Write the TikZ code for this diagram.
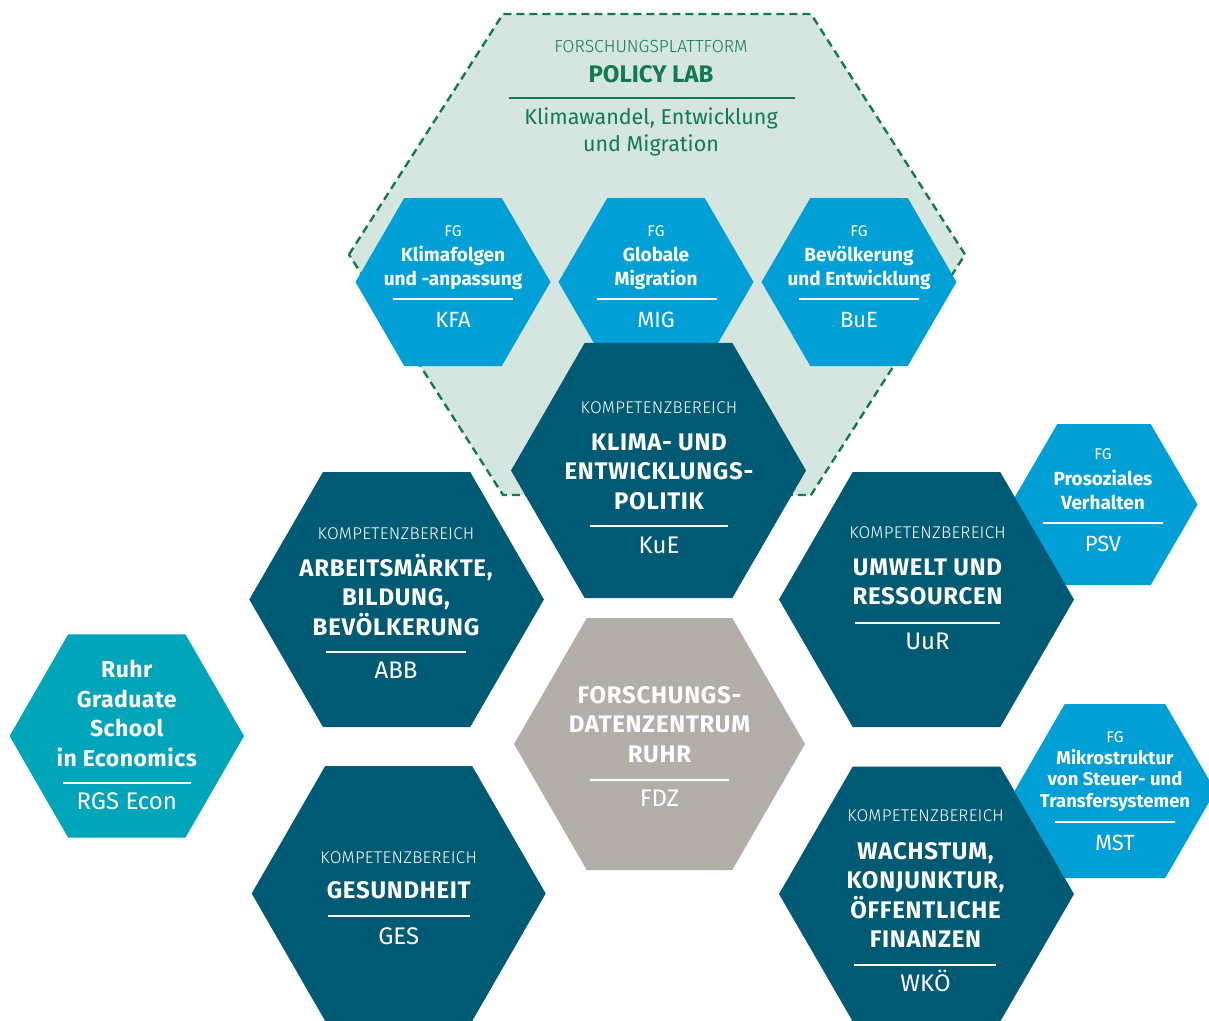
\documentclass[tikz,border=0pt]{standalone}
\usepackage{fontspec}
\setmainfont{Fira Sans}
\IfFontExistsTF{Fira Sans Light}{\newfontfamily\lightfont{Fira Sans Light}}{\newfontfamily\lightfont{Fira Sans}}

\definecolor{kbteal}{HTML}{005A74}
\definecolor{fgblue}{HTML}{00A0D7}
\definecolor{rgsteal}{HTML}{00A5B9}
\definecolor{fdzgrey}{HTML}{B4AEA8}
\definecolor{labfill}{HTML}{D5E6E0}
\definecolor{labgreen}{HTML}{127A50}

\newcommand{\hexshape}[4]{\path[#1,shift={(#2)}] (-#3,0) -- (-#3/2,-#4) -- (#3/2,-#4) -- (#3,0) -- (#3/2,#4) -- (-#3/2,#4) -- cycle;}

\tikzset{
  labhex/.style={fill=labfill,draw=labgreen,line width=2.4pt,dash pattern=on 8pt off 5pt},
  kbhex/.style={fill=kbteal},
  fghex/.style={fill=fgblue},
  rgshex/.style={fill=rgsteal},
  fdzhex/.style={fill=fdzgrey},
  sepline/.style={white,line width=1.2pt},
  labsmall/.style={text=labgreen,font=\lightfont\fontsize{17.5}{20}\selectfont},
  labtitle/.style={text=labgreen,font=\bfseries\fontsize{24}{28}\selectfont},
  labtext/.style={text=labgreen,font=\fontsize{21.5}{27}\selectfont},
  kbsmall/.style={font=\lightfont\fontsize{17}{20}\selectfont\addfontfeatures{LetterSpace=1.5}},
  kbtitle/.style={font=\bfseries\fontsize{24}{29.5}\selectfont\addfontfeatures{LetterSpace=3}},
  kbabbr/.style={font=\fontsize{24}{29}\selectfont},
  fgsmall/.style={font=\fontsize{15.5}{18}\selectfont},
  fgtitle/.style={font=\bfseries\fontsize{19}{24}\selectfont},
  fgabbr/.style={font=\fontsize{22}{26}\selectfont},
}

\begin{document}
\begin{tikzpicture}[x=1pt,y=-1pt]
  \useasboundingbox (0,0) rectangle (1209,1020);
  \clip (0,0) rectangle (1209,1020);

  \coordinate (lab) at (657,254.5);
  \coordinate (kfa-c) at (453,282);
  \coordinate (mig-c) at (656,282);
  \coordinate (bue-c) at (859,282);
  \coordinate (psv-c) at (1104,504.5);
  \coordinate (mst-c) at (1115,791);
  \coordinate (kue-c) at (658.5,470.5);
  \coordinate (abb-c) at (396.6,599.5);
  \coordinate (uur-c) at (926.5,599.5);
  \coordinate (fdz-c) at (659.5,744);
  \coordinate (ges-c) at (398.7,893.5);
  \coordinate (wko-c) at (926.5,894);
  \coordinate (rgs-c) at (126.8,736);

  \hexshape{labhex}{lab}{308}{240.5}

  \hexshape{fghex}{psv-c}{93.5}{80.5}
  \hexshape{fghex}{mst-c}{100.5}{87}
  \hexshape{fghex}{kfa-c}{97.5}{84}
  \hexshape{fghex}{mig-c}{97.5}{84}
  \hexshape{fghex}{bue-c}{97.5}{84}

  \hexshape{kbhex}{kue-c}{147.5}{127.7}
  \hexshape{kbhex}{abb-c}{147.3}{127.5}
  \hexshape{kbhex}{uur-c}{147.5}{127.5}
  \hexshape{kbhex}{ges-c}{147}{127.5}
  \hexshape{kbhex}{wko-c}{147.5}{127.5}
  \hexshape{fdzhex}{fdz-c}{145.5}{126}
  \hexshape{rgshex}{rgs-c}{117.2}{101.7}

  % base = baseline of the last line
  \begin{scope}[every node/.style={anchor=base,align=center,text=white,inner sep=0pt}]
    \node[labsmall] (lab-head)  at (651,52.5) {FORSCHUNGSPLATTFORM};
    \node[labtitle] (lab-title) at (651,82)   {POLICY LAB};
    \node[labtext]  (lab-topic) at (651,151)  {Klimawandel, Entwicklung\\und Migration};

    \node[fgsmall] (kfa-fg)    at (453,236.5) {FG};
    \node[fgtitle] (kfa-title) at (453,285)   {Klimafolgen\\und -anpassung};
    \node[fgabbr]  (kfa)       at (453,327)   {KFA};

    \node[fgsmall] (mig-fg)    at (656,236.5) {FG};
    \node[fgtitle] (mig-title) at (656,285)   {Globale\\Migration};
    \node[fgabbr]  (mig)       at (656,327)   {MIG};

    \node[fgsmall] (bue-fg)    at (859,236.5) {FG};
    \node[fgtitle] (bue-title) at (859,285)   {Bevölkerung\\und Entwicklung};
    \node[fgabbr]  (bue)       at (859,327)   {BuE};

    \node[fgsmall] (psv-fg)    at (1103,459.5) {FG};
    \node[fgtitle] (psv-title) at (1103,509)   {Prosoziales\\Verhalten};
    \node[fgabbr]  (psv)       at (1103,551)   {PSV};

    \node[fgsmall] (mst-fg)    at (1115,742.5) {FG};
    \node[fgtitle,font=\bfseries\fontsize{18.5}{21.5}\selectfont] (mst-title) at (1115,807) {Mikrostruktur\\von Steuer- und\\Transfersystemen};
    \node[fgabbr]  (mst)       at (1115,850)   {MST};

    \node[kbsmall] (kue-kb)    at (659,413.5) {KOMPETENZBEREICH};
    \node[kbtitle] (kue-title) at (659,509)   {KLIMA- UND\\ENTWICKLUNGS-\\POLITIK};
    \node[kbabbr]  (kue)       at (659,553)   {KuE};

    \node[kbsmall] (abb-kb)    at (396,539)   {KOMPETENZBEREICH};
    \node[kbtitle] (abb-title) at (396,635)   {ARBEITSMÄRKTE,\\BILDUNG,\\BEVÖLKERUNG};
    \node[kbabbr]  (abb)       at (396,678.5) {ABB};

    \node[kbsmall] (uur-kb)    at (927.5,538.5) {KOMPETENZBEREICH};
    \node[kbtitle] (uur-title) at (927.5,604.5) {UMWELT UND\\RESSOURCEN};
    \node[kbabbr]  (uur)       at (927.5,649)   {UuR};

    \node[kbtitle] (fdz-title) at (659.5,762)   {FORSCHUNGS-\\DATENZENTRUM\\RUHR};
    \node[kbabbr]  (fdz)       at (659.5,806)   {FDZ};

    \node[kbsmall] (ges-kb)    at (398.7,863)   {KOMPETENZBEREICH};
    \node[kbtitle] (ges-title) at (398.7,898.5) {GESUNDHEIT};
    \node[kbabbr]  (ges)       at (398.7,944)   {GES};

    \node[kbsmall] (wko-kb)    at (925.5,821.5) {KOMPETENZBEREICH};
    \node[kbtitle] (wko-title) at (925.5,947.5) {WACHSTUM,\\KONJUNKTUR,\\ÖFFENTLICHE\\FINANZEN};
    \node[kbabbr]  (wko)       at (925.5,991)   {WKÖ};

    \node[kbtitle,font=\bfseries\fontsize{23}{29.5}\selectfont\addfontfeatures{LetterSpace=2}] (rgs-title) at (126.8,766) {Ruhr\\Graduate\\School\\in Economics};
    \node[kbabbr]  (rgs)       at (126.8,809.5) {RGS Econ};
  \end{scope}

  \draw[labgreen,line width=1.5pt] (509,98) -- (795,98);
  \draw[sepline] (393,299) -- (513,299);
  \draw[sepline] (597,299) -- (717,299);
  \draw[sepline] (799,299) -- (919,299);
  \draw[sepline] (1043,523) -- (1163,523);
  \draw[sepline] (1055,822) -- (1175,822);
  \draw[sepline] (590,526) -- (728,526);
  \draw[sepline] (326,652) -- (466,652);
  \draw[sepline] (855,623) -- (1000,623);
  \draw[sepline] (590,780) -- (729,780);
  \draw[sepline] (328,916) -- (470,916);
  \draw[sepline] (854,965) -- (996,965);
  \draw[sepline] (62.5,783) -- (191,783);
\end{tikzpicture}
\end{document}
